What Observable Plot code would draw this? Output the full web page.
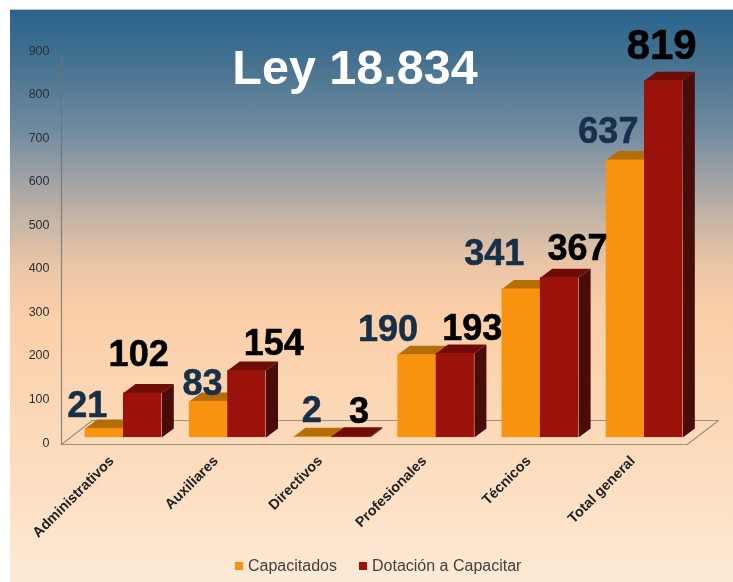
<!DOCTYPE html>
<html lang="es">
<head>
<meta charset="utf-8">
<script src="https://cdn.jsdelivr.net/npm/d3@7"></script>
<script src="https://cdn.jsdelivr.net/npm/@observablehq/plot@0.6"></script>
<style>
  html, body { margin: 0; padding: 0; background: #fff; }
  #page { position: relative; width: 733px; height: 582px; overflow: hidden; font-family: "Liberation Sans", Arial, sans-serif; }
  #bg { position: absolute; left: 10px; top: 9px; right: 0; bottom: 0;
    background: linear-gradient(180deg, #29648f 0, #44718f 50px, #708a9f 120px, #a0a3a6 170px, #c6b5a6 210px, #ecc6a6 258px, #fbcfa8 305px, #fcdcbd 450px, #fdead6 573px);
    border-top: 1px solid #b8c4cc; box-sizing: border-box; }
  #chart { position: absolute; left: 0; top: 0; filter: blur(0.45px); }
  #legend { position: absolute; left: 0; top: 557px; height: 18px; width: 733px; font-size: 16px; color: #45403c; filter: blur(0.4px); }
  #legend span { position: absolute; top: 0; white-space: nowrap; line-height: 18px; }
  #legend i { position: absolute; top: 5px; width: 8px; height: 8px; }
</style>
</head>
<body>
<div id="page">
  <div id="bg"></div>
  <div id="chart"></div>
  <div id="legend">
    <i style="left:235px;background:#f7930f"></i><span style="left:248px">Capacitados</span>
    <i style="left:359px;background:#9a120a"></i><span style="left:372px">Dotación a Capacitar</span>
  </div>
</div>
<script>
const categories = ["Administrativos", "Auxiliares", "Directivos", "Profesionales", "Técnicos", "Total general"];
const capacitados = [21, 83, 2, 190, 341, 637];
const dotacion = [102, 154, 3, 193, 367, 819];
const yTicks = [0, 100, 200, 300, 400, 500, 600, 700, 800, 900];

// Layout constants, in scale units
const pxX = 1 / 104.2, pxY = 1 / 0.4355;
const barW = 38.3 * pxX, depthX = 12 * pxX, depthY = 9 * pxY;
const floorLow = -16, floorHigh = 39, floorLeft = -0.595, floorRight = 5.41, floorBackL = -0.30, floorBackR = 5.71;

// Label nudges (px) from the centre/top of each bar
const capNudge = [[-17, 2], [-6, -3], [-1, 6], [-29, 5], [-27, 15], [-17, 8]];
const dotNudge = [[-4, 18], [27, 6], [8, 4], [17, 4], [18, 9], [-2, 13]];
const dotSize = [36, 36, 36, 36, 36, 42];

function series(values, colors, sign) {
  const rows = values.map((v, i) => ({i, v, x1: sign < 0 ? i - barW : i, x2: sign < 0 ? i : i + barW}));
  const poly = (fn) => rows.flatMap((r) => fn(r).map(([x, y]) => ({x, y, id: r.i})));
  return [
    Plot.line(poly((r) => [[r.x2, 0], [r.x2 + depthX, depthY], [r.x2 + depthX, r.v + depthY], [r.x2, r.v]]),
      {x: "x", y: "y", z: "id", fill: colors.side, stroke: "none"}),
    Plot.line(poly((r) => [[r.x1, r.v], [r.x2, r.v], [r.x2 + depthX, r.v + depthY], [r.x1 + depthX, r.v + depthY]]),
      {x: "x", y: "y", z: "id", fill: colors.top, stroke: "none"}),
    Plot.rect(rows, {x1: "x1", x2: "x2", y1: 0, y2: "v", fill: colors.front})
  ];
}

const labels = (values, nudges, size, fill) => values.map((v, i) => Plot.text([v], {
  x: () => i + (fill === "#000" ? barW / 2 : -barW / 2) + nudges[i][0] * pxX,
  y: (d) => d + depthY + nudges[i][1] * pxY,
  text: (d) => String(d),
  fontSize: typeof size === "number" ? size : size[i],
  fontWeight: "bold",
  fill,
  stroke: fill,
  strokeWidth: 0.6,
  lineAnchor: "bottom"
}));

const floor = [
  {x: floorBackL, y: floorHigh}, {x: floorLeft, y: floorLow}, {x: floorRight, y: floorLow}, {x: floorBackR, y: floorHigh}
];
const back = [{x: floorBackL, y: floorHigh}, {x: floorBackR, y: floorHigh}];
const wall = [{x: floorLeft, y: floorLow}, {x: floorLeft, y: 880}];

const plot = Plot.plot({
  width: 733, height: 582,
  marginLeft: 61, marginRight: 15, marginTop: 45, marginBottom: 138,
  x: {domain: [floorLeft, floorBackR], axis: null},
  y: {domain: [floorLow, 900], axis: null},
  style: {background: "transparent", fontFamily: "'Liberation Sans', Arial, sans-serif"},
  marks: [
    Plot.line(back, {x: "x", y: "y", stroke: "#96937f", strokeWidth: 1}),
    Plot.line(floor, {x: "x", y: "y", stroke: "#96937f", strokeWidth: 1.2}),
    Plot.line(wall, {x: "x", y: "y", stroke: "#6d7270", strokeWidth: 1.2, strokeOpacity: 0.8}),
    Plot.axisY({ticks: yTicks, tickSize: 0, tickPadding: 12, dy: 5, fontSize: 12.5, fill: "#2b2f36", tickFormat: (d) => String(d), label: null}),
    ...series(capacitados, {front: "#f7930f", top: "#b56d08", side: "#b56d08"}, -1),
    ...series(dotacion, {front: "#9a120a", top: "#6e0d08", side: "#4a0c08"}, 1),
    Plot.text(categories, {
      x: (d, i) => i - 12 * pxX,
      y: floorLow,
      text: (d) => d,
      rotate: -45,
      textAnchor: "end",
      dy: 14,
      fontSize: 14.3,
      fontWeight: "bold",
      fill: "#222"
    }),
    ...labels(capacitados, capNudge, 36, "#17304a"),
    ...labels(dotacion, dotNudge, dotSize, "#000"),
    Plot.text(["Ley 18.834"], {frameAnchor: "top", dy: 4, text: (d) => d, fontSize: 48.5, fontWeight: "bold", fill: "#fff", dx: -35})
  ]
});
document.getElementById("chart").append(plot);
</script>
</body>
</html>
